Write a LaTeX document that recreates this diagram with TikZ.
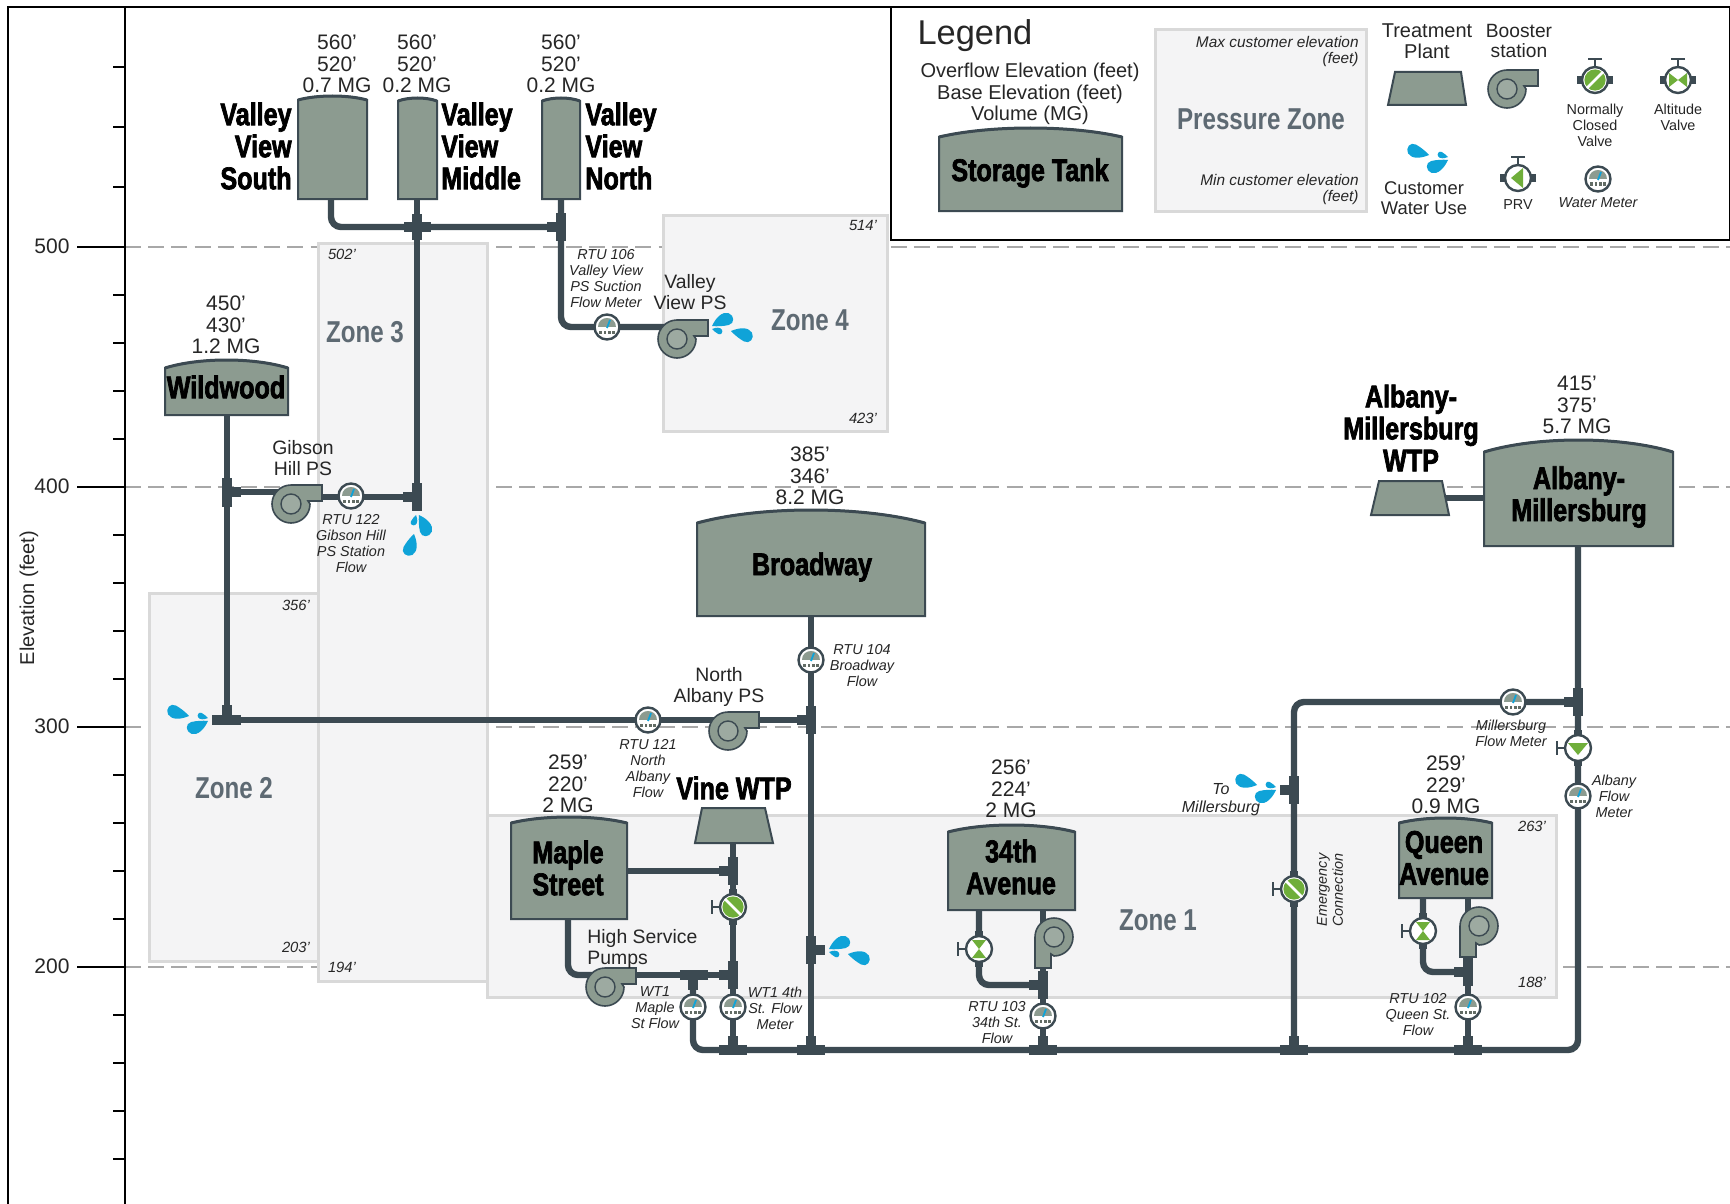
\documentclass[tikz,border=0pt]{standalone}
\usepackage{fontspec}
\setmainfont{Liberation Sans}
\newfontfamily\heavyf[FakeStretch=0.8,FakeBold=2.2]{Liberation Sans}
\newfontfamily\zonef[FakeStretch=0.8]{Liberation Sans}
\definecolor{pipecol}{HTML}{3C4A52}
\definecolor{tankcol}{HTML}{8C9B90}
\definecolor{zonecol}{HTML}{F4F4F5}
\definecolor{zoneedge}{HTML}{D9D9D9}
\definecolor{dropcol}{HTML}{0FA3D8}
\definecolor{valvecol}{HTML}{6FAE3A}
\definecolor{zonetext}{HTML}{5E6A73}
\definecolor{dashcol}{HTML}{A8A8A8}
\tikzset{
  axisline/.style={black,line width=1pt},
  dashline/.style={dashcol,line width=0.55pt,dash pattern=on 8pt off 3.6pt},
  zonebox/.style={fill=zonecol,draw=zoneedge,line width=1.5pt},
  pipeline/.style={pipecol,line width=3.2pt,rounded corners=5pt},
  fitting/.style={pipecol,line width=5pt},
  collar/.style={pipecol,line width=3.6pt},
  tankbody/.style={fill=tankcol,draw=pipecol,line width=1pt},
  num/.style={font=\fontsize{10.5}{10.8}\selectfont,align=center,text=black!85,inner sep=0pt},
  pslabel/.style={font=\fontsize{9.7}{10.8}\selectfont,align=center,text=black!85,inner sep=0pt},
  tiny/.style={font=\itshape\fontsize{7.2}{8}\selectfont,align=center,text=black!85,inner sep=0pt},
  legtiny/.style={font=\itshape\fontsize{7.7}{8}\selectfont,align=right,anchor=east,text=black!85,inner sep=0pt},
  tinyup/.style={font=\fontsize{7.2}{8}\selectfont,align=center,text=black!85,inner sep=0pt},
  elev/.style={font=\itshape\fontsize{7.4}{8}\selectfont,text=black!85,inner sep=0pt},
  title/.style={font=\heavyf\bfseries\fontsize{15.7}{16}\selectfont,align=center,text=black,inner sep=0pt},
  zonelabel/.style={font=\zonef\bfseries\fontsize{15.1}{16}\selectfont,text=zonetext,inner sep=0pt},
  valvebody/.style={circle,draw=pipecol,line width=1.2pt,fill=white,minimum size=13pt,inner sep=0pt},
  meterbody/.style={circle,draw=pipecol,line width=1.2pt,fill=white,minimum size=12.5pt,inner sep=0pt},
}
% tank: x1 x2 top shoulder bottom
\newcommand\tankshape[5]{%
  \pgfmathsetmacro\tca{#1+(#2-#1)*0.28}%
  \pgfmathsetmacro\tcb{#2-(#2-#1)*0.28}%
  \pgfmathsetmacro\tcy{#4-(#4-#3)*1.3333}%
  \draw[tankbody] (#1,#5) -- (#1,#4) .. controls (\tca,\tcy) and (\tcb,\tcy) .. (#2,#4) -- (#2,#5) -- cycle;
  \draw[pipecol,line width=1.5pt] (#1,#4) .. controls (\tca,\tcy) and (\tcb,\tcy) .. (#2,#4);
}
% plant: x1b x1t x2t x2b top bottom
\newcommand\plantshape[6]{\draw[tankbody] (#1,#6) -- (#2,#5) -- (#3,#5) -- (#4,#6) -- cycle;}
\newcommand\pumpshape[4]{% name x y transform
  \begin{scope}[shift={(#2,#3)},#4]
    \draw[fill=tankcol,draw=pipecol,line width=0.8pt] (31,-19) -- (0,-19) arc[start angle=90,delta angle=270,radius=9.5pt] -- (17,-3) -- (31,-3) -- cycle;
    \node[circle,draw=pipecol,line width=0.7pt,fill=tankcol!85!white,minimum size=10pt,inner sep=0pt] (#1) at (0,0) {};
  \end{scope}
}
\newcommand\onedrop[3]{\fill[dropcol,shift={#1},rotate=#2,scale=#3] (0,0) .. controls (8,-8) and (18,-13) .. (25,-8) .. controls (31,-3) and (28,7) .. (20,6) .. controls (13,5) and (6,3) .. (0,0) -- cycle;}
\newcommand\dropset[3]{%
  \begin{scope}[shift={(#1,#2)},rotate=#3]
    \onedrop{(4,-1)}{20}{0.8}
    \onedrop{(23,4)}{-22}{0.8}
    \onedrop{(4,2)}{-22}{0.38}
  \end{scope}
}
\newcommand\ncinner{\fill[valvecol] (0,0) circle[radius=5.3pt]; \draw[white,line width=1.3pt] (-8,-8) -- (8,8);}
\newcommand\altinner{\fill[valvecol] (-7,-9) -- (7,-9) -- (0,0) -- cycle (-7,9) -- (7,9) -- (0,0) -- cycle;}
\newcommand\prvinner{\fill[valvecol] (-10,-5) -- (10,-5) -- (0,7) -- cycle;}
\newcommand\valve[5]{% name x y rot inner
  \begin{scope}[shift={(#2,#3)},rotate=#4]
    \draw[collar] (0,-18) -- (0,18);
    \draw[pipecol,line width=1pt] (-13,0) -- (-21,0);
    \draw[pipecol,line width=1.2pt] (-21,-7) -- (-21,7);
    \node[valvebody] (#1) at (0,0) {};
    #5
  \end{scope}
}
\newcommand\meter[3]{% name x y
  \begin{scope}[shift={(#2,#3)}]
    \node[meterbody] (#1) at (0,0) {};
    \fill[tankcol] (-9,0) .. controls (-9,-12) and (9,-12) .. (9,0) -- cycle;
    \draw[dropcol,line width=0.9pt] (0,1) -- (3,-7);
    \foreach \mx in {-6.5,-2.2,2.2,6.5} {\fill[tankcol!70!black] (\mx-1.3,3.5) rectangle (\mx+1.3,6.5);}
  \end{scope}
}
\newcommand\vfit[3]{\draw[fitting] (#1,#2) -- (#1,#3);}
\newcommand\hfit[3]{\draw[fitting] (#2,#1) -- (#3,#1);}
\begin{document}
\begin{tikzpicture}[x=0.5pt,y=-0.5pt]
\useasboundingbox (0,0) rectangle (1730,1204);
\fill[white] (0,0) rectangle (1730,1204);
% grid dashes
\coordinate (d5a) at (125,247); \coordinate (d5b) at (1730,247);
\coordinate (d4a) at (125,487); \coordinate (d4b) at (1730,487);
\coordinate (d3a) at (125,727); \coordinate (d3b) at (1730,727);
\coordinate (d2a) at (125,967); \coordinate (d2b) at (1730,967);
\draw[dashline] (d5a) -- (d5b);
\draw[dashline] (d4a) -- (d4b);
\draw[dashline] (d3a) -- (d3b);
\draw[dashline] (d2a) -- (d2b);
% zones
\draw[zonebox] (149,593) rectangle (319,961);
\draw[zonebox] (318,243) rectangle (487,981);
\draw[zonebox] (663,215) rectangle (887,431);
\draw[zonebox] (487,815) rectangle (1556,997);
\node[zonelabel] (zone2) at (234,788) {Zone 2};
\node[zonelabel] (zone3) at (365,332) {Zone 3};
\node[zonelabel] (zone4) at (810,320) {Zone 4};
\node[zonelabel] (zone1) at (1158,920) {Zone 1};
% axis and frame
\draw[axisline] (8,1204) -- (8,7) -- (1730,7);
\draw[axisline] (125,7) -- (125,1204);
\foreach \ty in {67,127,187,295,343,391,439,535,583,631,679,775,823,871,919,1015,1063,1111,1159} {\draw[axisline] (113,\ty) -- (125,\ty);}
\foreach \ty in {247,487,727,967} {\draw[axisline] (77,\ty) -- (125,\ty);}
\node[num] (t500) at (52,246) {500};
\node[num] (t400) at (52,486) {400};
\node[num] (t300) at (52,726) {300};
\node[num] (t200) at (52,966) {200};
\node[font=\fontsize{10}{11}\selectfont,rotate=90,text=black!85,inner sep=0pt] (axislabel) at (29,598) {Elevation (feet)};
% legend panel
\draw[axisline,fill=white] (891,7) -- (891,240) -- (1730,240) -- (1730,7) -- cycle;
% pipe anchors
\coordinate (vs) at (331,199); \coordinate (vsb) at (331,227);
\coordinate (vm) at (417,199); \coordinate (vmb) at (417,495);
\coordinate (vn) at (561,199); \coordinate (vnj) at (561,227); \coordinate (vnb) at (561,327);
\coordinate (vpsin) at (676,327);
\coordinate (gl) at (291,492); \coordinate (gj) at (227,492); \coordinate (gr) at (322,497); \coordinate (gm) at (417,497);
\coordinate (ww) at (227,415); \coordinate (wwb) at (227,720);
\coordinate (nj) at (811,720);
\coordinate (bw) at (811,616);
\coordinate (main0) at (693,975); \coordinate (main1) at (693,1050); \coordinate (main2) at (1578,1050); \coordinate (amb) at (1578,546);
\coordinate (em0) at (1294,1050); \coordinate (em1) at (1294,702); \coordinate (em2) at (1578,702);
\coordinate (bwb) at (811,1050);
\coordinate (ms) at (568,919); \coordinate (ms1) at (568,975); \coordinate (hs) at (605,975); \coordinate (hs2) at (733,975);
\coordinate (vine) at (733,843); \coordinate (vineb) at (733,1050);
\coordinate (msr) at (627,871); \coordinate (msj) at (733,871);
\coordinate (th) at (1043,910); \coordinate (thb) at (1043,1050);
\coordinate (thv) at (979,910); \coordinate (thv1) at (979,985); \coordinate (thv2) at (1043,985);
\coordinate (qa) at (1468,898); \coordinate (qab) at (1468,1050);
\coordinate (qv) at (1423,898); \coordinate (qv1) at (1423,972); \coordinate (qv2) at (1468,972);
\coordinate (awtp) at (1444,498); \coordinate (amt) at (1484,498);
% pipes
\draw[pipeline] (vs) -- (vsb) -- (vnj);
\draw[pipeline] (vm) -- (vmb);
\draw[pipeline] (vn) -- (vnb) -- (vpsin);
\draw[pipeline] (gj) -- (gl);
\draw[pipeline] (gr) -- (gm);
\draw[pipeline] (ww) -- (wwb);
\draw[pipeline] (wwb) -- (nj);
\draw[pipeline] (bw) -- (bwb);
\draw[pipeline] (main0) -- (main1) -- (main2) -- (amb);
\draw[pipeline] (em0) -- (em1) -- (em2);
\draw[pipeline] (ms) -- (ms1) -- (hs);
\draw[pipeline] (hs) -- (hs2);
\draw[pipeline] (vine) -- (vineb);
\draw[pipeline] (msr) -- (msj);
\draw[pipeline] (th) -- (thb);
\draw[pipeline] (thv) -- (thv1) -- (thv2);
\draw[pipeline] (qa) -- (qab);
\draw[pipeline] (qv) -- (qv1) -- (qv2);
\draw[pipeline] (awtp) -- (amt);
% fittings
\hfit{227}{404}{431}\vfit{417}{214}{240}
\vfit{561}{213}{241}\hfit{227}{547}{561}
\vfit{417}{483}{511}\hfit{497}{403}{417}
\vfit{227}{478}{507}\hfit{492}{227}{241}
\hfit{720}{212}{241}\vfit{227}{705}{720}
\vfit{811}{706}{734}\hfit{720}{797}{811}
\vfit{733}{857}{885}\hfit{871}{719}{733}
\vfit{733}{961}{989}\hfit{975}{719}{733}
\hfit{975}{680}{708}\vfit{693}{975}{990}
\foreach \fx in {733,811,1043,1294,1468} {\hfit{1050}{\fx-14}{\fx+14}\vfit{\fx}{1036}{1050}}
\vfit{811}{936}{964}\hfit{950}{811}{825}
\vfit{1294}{776}{804}\hfit{790}{1280}{1294}
\vfit{1578}{688}{716}\hfit{702}{1564}{1578}
\vfit{1468}{958}{986}\hfit{972}{1454}{1468}
\vfit{1043}{971}{999}\hfit{985}{1029}{1043}
% tanks
\tankshape{298}{367}{96}{100}{199}
\tankshape{398}{437}{98}{101}{199}
\tankshape{542}{580}{98}{101}{199}
\tankshape{165}{288}{360}{368}{415}
\tankshape{697}{925}{510}{523}{616}
\tankshape{1484}{1673}{440}{452}{546}
\tankshape{511}{627}{817}{823}{919}
\tankshape{948}{1075}{825}{832}{910}
\tankshape{1399}{1492}{818}{823}{898}
\tankshape{939}{1122}{128}{137}{211}
% plants
\plantshape{695}{702}{765}{773}{808}{843}
\plantshape{1371}{1379}{1442}{1449}{481}{515}
\plantshape{1388}{1395}{1461}{1466}{72}{105}
% pumps
\pumpshape{pgib}{291}{504}{}
\pumpshape{pvv}{677}{339}{}
\pumpshape{pna}{728}{731}{}
\pumpshape{phs}{605}{987}{}
\pumpshape{p34}{1054}{937}{rotate=-90,yscale=-1}
\pumpshape{pq}{1479}{926}{rotate=-90,yscale=-1}
\pumpshape{plg}{1507}{89}{}
% valves
\valve{vnc1}{733}{907}{0}{\ncinner}
\valve{vnc2}{1294}{889}{0}{\ncinner}
\valve{valt1}{979}{949}{0}{\altinner}
\valve{valt2}{1423}{931}{0}{\altinner}
\valve{vprv}{1578}{748}{0}{\prvinner}
\valve{lnc}{1595}{80}{-90}{\ncinner}
\valve{lalt}{1678}{80}{-90}{\altinner}
\valve{lprv}{1518}{178}{-90}{\prvinner}
% meters
\meter{m106}{607}{327}
\meter{m122}{351}{496}
\meter{m121}{648}{720}
\meter{m104}{811}{660}
\meter{mwt1}{693}{1007}
\meter{mwt2}{733}{1007}
\meter{m103}{1043}{1016}
\meter{m102}{1468}{1007}
\meter{mmil}{1513}{702}
\meter{malb}{1578}{796}
\meter{mleg}{1598}{179}
% drops
\dropset{708}{327}{0}
\dropset{825}{950}{0}
\dropset{418}{511}{-90}
\dropset{212}{720}{180}
\dropset{1280}{789}{180}
\dropset{1452}{159}{180}
% tank data
\node[num] (n1) at (337,64) {560'\\520'\\0.7 MG};
\node[num] (n2) at (417,64) {560'\\520'\\0.2 MG};
\node[num] (n3) at (561,64) {560'\\520'\\0.2 MG};
\node[num] (n4) at (226,325) {450'\\430'\\1.2 MG};
\node[num] (n5) at (810,476) {385'\\346'\\8.2 MG};
\node[num] (n6) at (1577,405) {415'\\375'\\5.7 MG};
\node[num] (n7) at (568,784) {259'\\220'\\2 MG};
\node[num] (n8) at (1011,789) {256'\\224'\\2 MG};
\node[num] (n9) at (1446,785) {259'\\229'\\0.9 MG};
% titles
\node[title,align=right,anchor=east] (tvs) at (292,146) {Valley\\View\\South};
\node[title,align=left,anchor=west] (tvm) at (441,146) {Valley\\View\\Middle};
\node[title,align=left,anchor=west] (tvn) at (585,146) {Valley\\View\\North};
\node[title] (tww) at (226,387) {Wildwood};
\node[title] (tbw) at (812,567) {Broadway};
\node[title] (tam) at (1579,497) {Albany-\\Millersburg};
\node[title] (tamw) at (1411,428) {Albany-\\Millersburg\\WTP};
\node[title] (tvine) at (734,788) {Vine WTP};
\node[title] (tms) at (568,868) {Maple\\Street};
\node[title] (t34) at (1011,867) {34th\\Avenue};
\node[title] (tq) at (1444,858) {Queen\\Avenue};
% pump labels
\node[pslabel] (lgib) at (303,458) {Gibson\\Hill PS};
\node[pslabel] (lvv) at (690,292) {Valley\\View PS};
\node[pslabel] (lna) at (719,687) {North\\Albany PS};
\node[pslabel,align=left,anchor=west] (lhs) at (587,949) {High Service\\Pumps};
% small labels
\node[tiny] (r106) at (606,279) {RTU 106\\Valley View\\PS Suction\\Flow Meter};
\node[tiny] (r122) at (351,544) {RTU 122\\Gibson Hill\\PS Station\\Flow};
\node[tiny] (r104) at (862,666) {RTU 104\\Broadway\\Flow};
\node[tiny] (r121) at (648,769) {RTU 121\\North\\Albany\\Flow};
\node[tiny] (wt1) at (655,1008) {WT1\\Maple\\St Flow};
\node[tiny] (wt2) at (775,1008) {WT1 4th\\St. Flow\\Meter};
\node[tiny] (r103) at (997,1023) {RTU 103\\34th St.\\Flow};
\node[tiny] (r102) at (1418,1015) {RTU 102\\Queen St.\\Flow};
\node[tiny] (rmil) at (1511,733) {Millersburg\\Flow Meter};
\node[tiny] (ralb) at (1614,796) {Albany\\Flow\\Meter};
\node[font=\itshape\fontsize{8}{9}\selectfont,align=center,text=black!85,inner sep=0pt] (rto) at (1221,800) {To\\Millersburg};
\node[tiny,rotate=90] (rem) at (1330,890) {Emergency\\Connection};
% zone elevations
\node[elev] (e1) at (342,254) {502'};
\node[elev] (e2) at (863,225) {514'};
\node[elev] (e3) at (863,418) {423'};
\node[elev] (e4) at (296,605) {356'};
\node[elev] (e5) at (296,947) {203'};
\node[elev] (e6) at (342,967) {194'};
\node[elev] (e7) at (1532,826) {263'};
\node[elev] (e8) at (1532,982) {188'};
% legend
\node[font=\fontsize{17.2}{19}\selectfont,text=black!85,inner sep=0pt] (lgt) at (975,36) {Legend};
\node[font=\fontsize{10}{10.8}\selectfont,align=center,text=black!85,inner sep=0pt] (lg1) at (1030,94) {Overflow Elevation (feet)\\Base Elevation (feet)\\Volume (MG)};
\node[title] (lg2) at (1030,173) {Storage Tank};
\draw[zonebox] (1155,30) rectangle (1366,211);
\node[zonelabel] (lg3) at (1261,119) {Pressure Zone};
\node[legtiny] (lg4) at (1359,52) {Max customer elevation\\(feet)};
\node[legtiny] (lg5) at (1359,190) {Min customer elevation\\(feet)};
\node[font=\fontsize{10}{10.4}\selectfont,align=center,text=black!85,inner sep=0pt] (lg6) at (1427,41) {Treatment\\Plant};
\node[font=\fontsize{9.6}{10.4}\selectfont,align=center,text=black!85,inner sep=0pt] (lg7) at (1519,41) {Booster\\station};
\node[tinyup] (lg8) at (1595,125) {Normally\\Closed\\Valve};
\node[tinyup] (lg9) at (1678,117) {Altitude\\Valve};
\node[font=\fontsize{9.2}{9.8}\selectfont,align=center,text=black!85,inner sep=0pt] (lg10) at (1424,198) {Customer\\Water Use};
\node[tinyup] (lg11) at (1518,205) {PRV};
\node[tiny] (lg12) at (1598,203) {Water Meter};
\end{tikzpicture}
\end{document}
